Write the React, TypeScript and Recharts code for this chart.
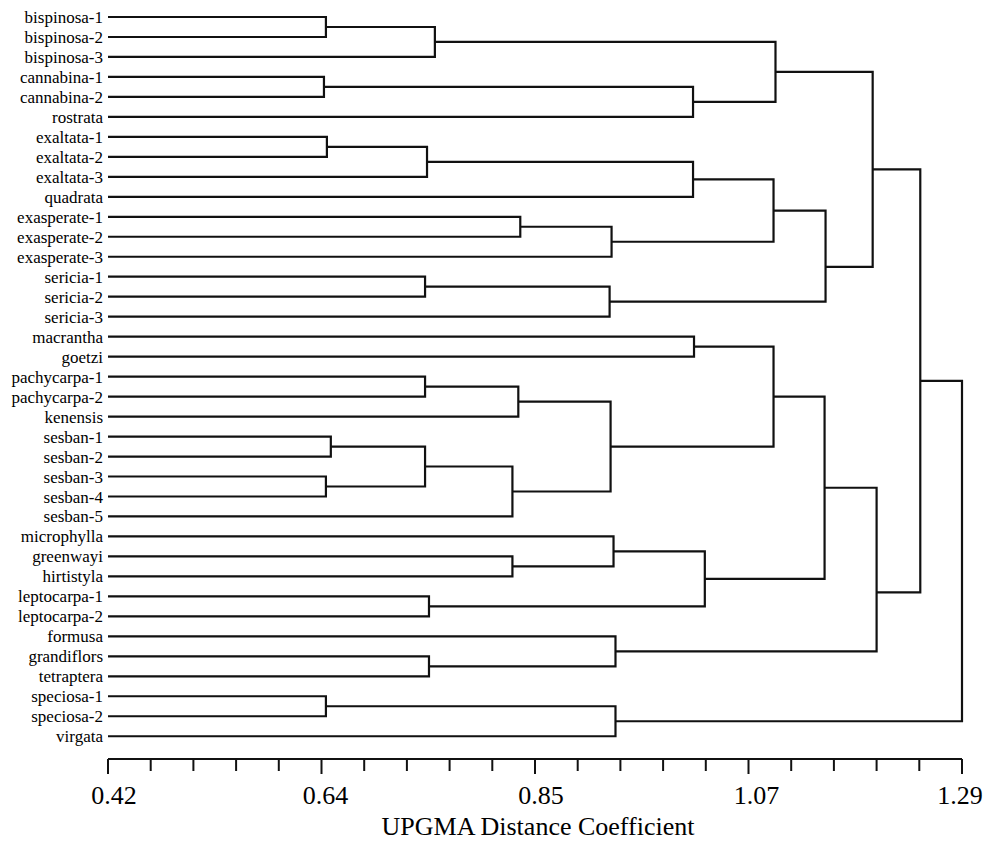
import { ComposedChart, Scatter, XAxis, YAxis } from "recharts"

const leaves = [
    "bispinosa-1", "bispinosa-2", "bispinosa-3",
    "cannabina-1", "cannabina-2", "rostrata",
    "exaltata-1", "exaltata-2", "exaltata-3", "quadrata",
    "exasperate-1", "exasperate-2", "exasperate-3",
    "sericia-1", "sericia-2", "sericia-3",
    "macrantha", "goetzi",
    "pachycarpa-1", "pachycarpa-2", "kenensis",
    "sesban-1", "sesban-2", "sesban-3", "sesban-4", "sesban-5",
    "microphylla", "greenwayi", "hirtistyla",
    "leptocarpa-1", "leptocarpa-2",
    "formusa", "grandiflors", "tetraptera",
    "speciosa-1", "speciosa-2", "virgata",
]

// [node id, left child, right child, UPGMA distance at the join]
const merges: [string, string, string, number][] = [
    ["m1", "bispinosa-1", "bispinosa-2", 0.642],
    ["m2", "m1", "bispinosa-3", 0.753],
    ["m3", "cannabina-1", "cannabina-2", 0.640],
    ["m4", "m3", "rostrata", 1.016],
    ["m5", "m2", "m4", 1.100],
    ["m6", "exaltata-1", "exaltata-2", 0.643],
    ["m7", "m6", "exaltata-3", 0.745],
    ["m8", "m7", "quadrata", 1.016],
    ["m9", "exasperate-1", "exasperate-2", 0.840],
    ["m10", "m9", "exasperate-3", 0.933],
    ["m11", "m8", "m10", 1.098],
    ["m12", "sericia-1", "sericia-2", 0.743],
    ["m13", "m12", "sericia-3", 0.931],
    ["m14", "m11", "m13", 1.151],
    ["m15", "m5", "m14", 1.199],
    ["m16", "macrantha", "goetzi", 1.017],
    ["m17", "pachycarpa-1", "pachycarpa-2", 0.743],
    ["m18", "m17", "kenensis", 0.838],
    ["m19", "sesban-1", "sesban-2", 0.647],
    ["m20", "sesban-3", "sesban-4", 0.642],
    ["m21", "m19", "m20", 0.743],
    ["m22", "m21", "sesban-5", 0.832],
    ["m23", "m18", "m22", 0.932],
    ["m24", "m16", "m23", 1.098],
    ["m25", "greenwayi", "hirtistyla", 0.832],
    ["m26", "microphylla", "m25", 0.935],
    ["m27", "leptocarpa-1", "leptocarpa-2", 0.747],
    ["m28", "m26", "m27", 1.028],
    ["m29", "m24", "m28", 1.150],
    ["m30", "grandiflors", "tetraptera", 0.747],
    ["m31", "formusa", "m30", 0.937],
    ["m32", "m29", "m31", 1.203],
    ["m33", "m15", "m32", 1.2475],
    ["m34", "speciosa-1", "speciosa-2", 0.642],
    ["m35", "m34", "virgata", 0.937],
    ["m36", "m33", "m35", 1.29],
]

// the original plot puts a couple of stems off the midpoint (leaf-row units)
const stemOverrides: Record<string, number> = { m14: 12.51, m32: 28.8 }

const majorTicks = [0.42, 0.6375, 0.855, 1.0725, 1.29]
const tickLabels = ["0.42", "0.64", "0.85", "1.07", "1.29"]
const tickLabelShift = [6, 4, 6, 8, -2]

const X_MIN = 0.42
const X_MAX = 1.29
const FONT = "'Liberation Serif', 'Times New Roman', serif"
const INK = "#111"

const allTicks: number[] = []
for (let k = 0; k < majorTicks.length - 1; k++) {
    const step = (majorTicks[k + 1] - majorTicks[k]) / 5
    for (let j = 0; j < 5; j++) allTicks.push(majorTicks[k] + j * step)
}
allTicks.push(majorTicks[majorTicks.length - 1])

function buildBrackets() {
    const nodes: Record<string, { pos: number; h: number }> = {}
    leaves.forEach((name, i) => { nodes[name] = { pos: i, h: X_MIN } })
    return merges.map(([id, l, r, h]) => {
        const a = nodes[l]
        const b = nodes[r]
        const pos = stemOverrides[id] ?? (a.pos + b.pos) / 2
        nodes[id] = { pos, h }
        return {
            id,
            points: [
                { x: a.h, y: a.pos },
                { x: h, y: a.pos },
                { x: h, y: b.pos },
                { x: b.h, y: b.pos },
            ],
        }
    })
}

function AxisTick(props: any) {
    const { x, y, payload } = props
    const i = majorTicks.findIndex(t => Math.abs(t - payload.value) < 1e-6)
    const major = i >= 0
    return (
        <g>
            <line x1={x} y1={y} x2={x} y2={y + (major ? 15 : 12)} stroke={INK} strokeWidth={2} />
            {major && (
                <text x={x + tickLabelShift[i]} y={y + 45} textAnchor="middle" fontSize={26} fontFamily={FONT} fill="#000">
                    {tickLabels[i]}
                </text>
            )}
        </g>
    )
}

function App() {
    const brackets = buildBrackets()
    const leafIdx = leaves.map((_, i) => i)

    return (
        <ComposedChart
            width={985}
            height={835}
            margin={{ top: 9, right: 31, bottom: 4, left: 0 }}
        >
            <XAxis
                type="number"
                dataKey="x"
                domain={[X_MIN, X_MAX]}
                ticks={allTicks}
                interval={0}
                tickLine={false}
                tickSize={0}
                tickMargin={0}
                tick={<AxisTick />}
                axisLine={{ stroke: INK, strokeWidth: 2 }}
                height={80}
                label={({ viewBox }: any) => (
                    <text
                        x={viewBox.x + viewBox.width / 2 + 3}
                        y={viewBox.y + 76}
                        textAnchor="middle"
                        fontSize={26}
                        fontFamily={FONT}
                        fill="#000"
                    >
                        UPGMA Distance Coefficient
                    </text>
                )}
            />
            <YAxis
                type="number"
                dataKey="y"
                reversed
                domain={[0, 37.14]}
                ticks={leafIdx}
                interval={0}
                width={100}
                axisLine={false}
                tickLine={false}
                tickSize={5}
                tickMargin={0}
                tickFormatter={(v: number) => leaves[v] ?? ""}
                tick={{ fill: "#000", fontSize: 17, fontFamily: FONT }}
            />
            {brackets.map(b => (
                <Scatter
                    key={b.id}
                    data={b.points}
                    line={{ stroke: INK, strokeWidth: 2.2 }}
                    lineType="joint"
                    stroke={INK}
                    fill="none"
                    shape={() => <g />}
                    isAnimationActive={false}
                />
            ))}
        </ComposedChart>
    )
}

export default App
